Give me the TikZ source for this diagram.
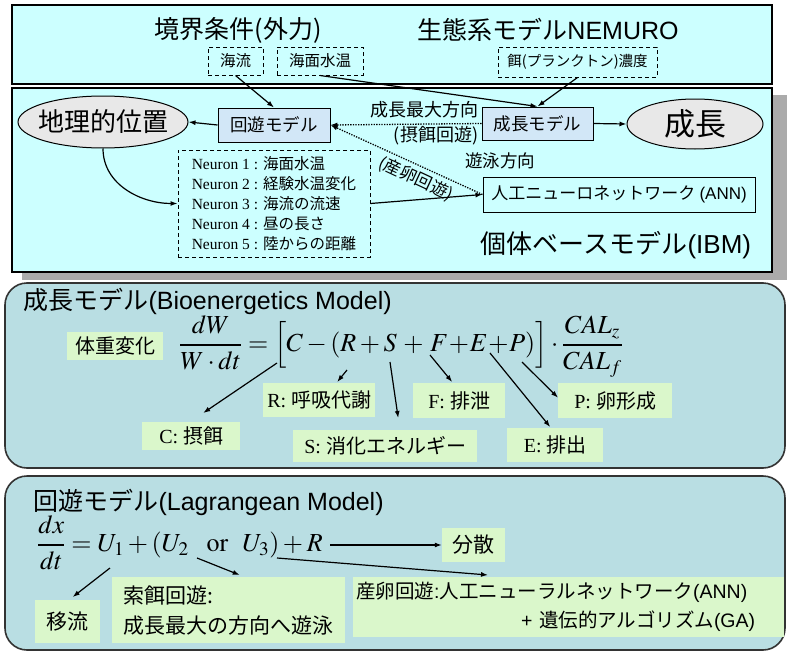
\documentclass[tikz,border=0pt]{standalone}
\usepackage{amsmath}
\usepackage{mathptmx}
\usepackage{fontspec}
\setmainfont{Liberation Serif}
\newfontfamily\jp{Noto Sans CJK JP}
\newfontfamily\lsans{Liberation Sans}
\usetikzlibrary{arrows.meta,shapes.geometric}
\definecolor{topcyan}{HTML}{CCFFFF}
\definecolor{boxblue}{HTML}{D2E7F7}
\definecolor{ellgray}{HTML}{E8E8E8}
\definecolor{secblue}{HTML}{B9DEE3}
\definecolor{lgreen}{HTML}{DAF7CB}
\definecolor{shadowgray}{HTML}{ABABAB}
\newcommand\myfs[2]{\fontsize{#1}{#2}\selectfont}
\newcommand\J[1]{{\jp #1}}
\begin{document}
\begin{tikzpicture}[x=1pt,y=-1pt,
  frameA/.style={draw=black, line width=2pt, fill=topcyan},
  dbox/.style={draw, dash pattern=on 4pt off 3pt, line width=1pt, inner sep=0pt, font=\jp\myfs{15.5}{18}},
  mbox/.style={draw, line width=1pt, fill=boxblue, inner sep=0pt, font=\jp\myfs{17.5}{20}},
  ellnode/.style={ellipse, draw, line width=1pt, fill=ellgray, inner sep=0pt},
  gbox/.style={fill=lgreen, inner sep=0pt},
  arr/.style={-{Latex[length=7pt,width=5pt]}, line width=1.2pt},
  dotarr/.style={-{Latex[length=7pt,width=5pt]}, line width=1.3pt, dash pattern=on 1.3pt off 1.3pt},
  rsec/.style={draw=black!80, line width=1.6pt, fill=secblue, rounded corners=22pt},
  lbl/.style={font=\jp\myfs{18}{20}},
  glbl/.style={font=\myfs{20}{24}},
  bigtitle/.style={font=\jp\myfs{25}{28}}
]
\useasboundingbox (0,0) rectangle (787,653);
\fill[white] (0,0) rectangle (787,653);

% ---------- frames ----------
\draw[frameA] (12,5) rectangle (772,84);
\fill[shadowgray] (22,95) rectangle (787,280);
\draw[frameA] (12,88) rectangle (772,272);

% ---------- top: boundary conditions ----------
\node[bigtitle] (bc) at (238,30) {境界条件(外力)};
\node[bigtitle] (eco) at (548,30) {生態系モデル{\lsans NEMURO}};
\node[dbox, minimum width=55pt, minimum height=28pt] (kairyu) at (235.5,61) {海流};
\node[dbox, minimum width=86pt, minimum height=28pt] (suion) at (320,61) {海面水温};
\node[dbox, minimum width=159pt, minimum height=30pt, font=\jp\myfs{14.5}{17}] (esa) at (577.5,62) {餌(プランクトン)濃度};

% ---------- IBM ----------
\node[ellnode, minimum width=170pt, minimum height=52pt,
      label={[font=\jp\myfs{26}{28}]center:地理的位置}] (chiri) at (103,122) {};
\node[mbox, minimum width=112pt, minimum height=34pt] (kaiyu) at (274,125) {回遊モデル};
\node[mbox, minimum width=111pt, minimum height=33pt] (seicho) at (537.5,123.5) {成長モデル};
\node[ellnode, minimum width=136pt, minimum height=50pt,
      label={[font=\jp\myfs{31}{33}]center:成長}] (seichoE) at (695,124) {};
\node[dbox, minimum width=192pt, minimum height=107pt, align=left, font=\myfs{15.5}{20}] (neuron) at (274,203.5)
  {Neuron 1 : \J{海面水温}\\Neuron 2 : \J{経験水温変化}\\Neuron 3 : \J{海流の流速}\\Neuron 4 : \J{昼の長さ}\\Neuron 5 : \J{陸からの距離}};
\node[draw, line width=1pt, inner sep=0pt, minimum width=272pt, minimum height=35pt, font=\myfs{17}{20}] (ann) at (619,194.5)
  {\J{人工ニューロネットワーク} {\lsans (ANN)}};
\node[lbl] (maxdir) at (424,110) {成長最大方向};
\node[lbl] (sakujiL) at (436,136) {(摂餌回遊)};
\node[lbl, font=\jp\myfs{17.5}{20}] (yuei) at (500,161) {遊泳方向};
\node[lbl, font=\jp\myfs{17}{19}, rotate=-25] (sanranL) at (416,179) {(産卵回遊)};
\node[font=\jp\myfs{26}{28}] (ibm) at (616,245) {個体ベースモデル{\lsans (IBM)}};

\draw[arr] (kairyu.south) -- (kaiyu.north);
\draw[arr] (suion.south) -- (seicho.north);
\draw[arr] (esa.south) -- (seicho.north);
\draw[arr] (kaiyu.west) -- (chiri.east);
\draw[arr] (seicho.east) -- (seichoE.west);
\draw[dotarr] (seicho.west) -- (kaiyu.east);
\draw[dotarr] (ann.west) -- (kaiyu.east);
\draw[arr] (chiri.south) to[out=-90, in=180] (neuron.west);
\draw[arr] (neuron.east) -- (ann.west);

% ---------- growth model ----------
\draw[rsec] (5,283) rectangle (785,468);
\node[anchor=west, font=\jp\myfs{25}{28}] (gtitle) at (20,301) {成長モデル{\lsans (Bioenergetics Model)}};
\node[gbox, minimum width=96pt, minimum height=28pt, font=\jp\myfs{20}{22}] (wt) at (115,346) {体重変化};
\node[anchor=base west, inner sep=0pt, font=\myfs{26}{30}] (eqG) at (179,351.5)
  {$\dfrac{dW}{W\cdot dt}=\Bigl[C-(R+S\,+\,F\!+\!E\!+\!P)\Bigr]\cdot\dfrac{CAL_z}{CAL_f}$};
\node[gbox, glbl, anchor=north west, minimum width=112pt, minimum height=34pt] (lR) at (263,383) {R: \J{呼吸代謝}};
\node[gbox, glbl, anchor=north west, minimum width=98pt, minimum height=28pt] (lC) at (142,422) {C: \J{摂餌}};
\node[gbox, glbl, anchor=north west, minimum width=184pt, minimum height=32pt] (lS) at (293,430) {S: \J{消化エネルギー}};
\node[gbox, glbl, anchor=north west, minimum width=92pt, minimum height=35pt] (lF) at (413,383) {F: \J{排泄}};
\node[gbox, glbl, anchor=north west, minimum width=114pt, minimum height=35pt] (lP) at (558,383) {P: \J{卵形成}};
\node[gbox, glbl, anchor=north west, minimum width=96pt, minimum height=34pt] (lE) at (507,428) {E: \J{排出}};
\coordinate (eC) at (277,363);
\coordinate (eR) at (347,370);
\coordinate (eS) at (390,362);
\coordinate (eF) at (430,355);
\coordinate (eE) at (490,353);
\coordinate (eP) at (522,362);
\draw[arr] (eC) -- ([xshift=12pt,yshift=9pt]lC.north);
\draw[arr] (eR) -- ([xshift=18pt,yshift=1pt]lR.north);
\draw[arr] (eS) -- ([xshift=13pt,yshift=12pt]lS.north);
\draw[arr] (eF) -- ([xshift=-7pt,yshift=1pt]lF.north);
\draw[arr] (eE) -- ([xshift=-5pt,yshift=1pt]lE.north);
\draw[arr] (eP) -- ([yshift=3pt]lP.west);

% ---------- migration model ----------
\draw[rsec] (5,476) rectangle (785,650);
\node[anchor=west, font=\jp\myfs{25}{28}] (mtitle) at (30,502) {回遊モデル{\lsans (Lagrangean Model)}};
\node[anchor=base west, inner sep=0pt, font=\myfs{26}{30}] (eqM) at (37,551.5)
  {$\dfrac{dx}{dt}=U_1+(U_2\hspace{18pt}\mathrm{or}\hspace{14pt}U_3)+R$};
\node[gbox, minimum width=63pt, minimum height=34pt, font=\jp\myfs{21}{24}] (bunsan) at (473.5,545) {分散};
\node[gbox, anchor=north west, minimum width=65pt, minimum height=43pt, font=\jp\myfs{21}{24}] (iryu) at (35,600) {移流};
\node[gbox, anchor=north west, minimum width=233pt, minimum height=66pt, align=left, font=\jp\myfs{21}{30}] (sakuji) at (112,577)
  {索餌回遊:\\成長最大の方向へ遊泳};
\node[gbox, anchor=north west, minimum width=430pt, minimum height=60pt, text width=425pt, inner xsep=3pt, align=left, font=\lsans\myfs{19.5}{29}] (sanran) at (353,577)
  {\J{産卵回遊}:\J{人工ニューラルネットワーク}(ANN)\\\hspace*{165pt}+ \J{遺伝的アルゴリズム}(GA)};
\coordinate (eU1) at (110,568);
\coordinate (eU2) at (197,558);
\coordinate (eU3) at (277,558);
\coordinate (eRr) at (330,545);
\draw[arr] (eRr) -- (bunsan.west);
\draw[arr] (eU1) -- ([xshift=5pt,yshift=3pt]iryu.north);
\draw[arr] (eU2) -- ([xshift=11pt,yshift=2pt]sakuji.north);
\draw[arr] (eU3) -- ([xshift=135pt,yshift=2pt]sanran.north west);
\end{tikzpicture}
\end{document}
